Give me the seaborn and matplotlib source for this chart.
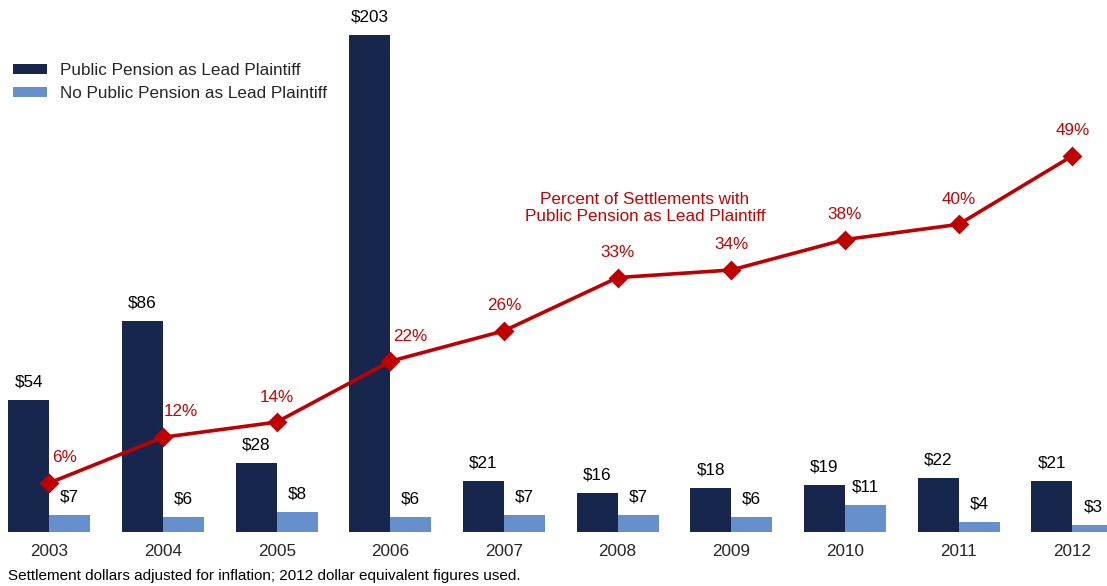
import matplotlib
matplotlib.use("Agg")
import matplotlib.pyplot as plt
import seaborn as sns
import pandas as pd

# Settlement data (2012 dollars, millions) and share of settlements with a public pension lead plaintiff
years = ["2003", "2004", "2005", "2006", "2007", "2008", "2009", "2010", "2011", "2012"]
public_pension = [54, 86, 28, 203, 21, 16, 18, 19, 22, 21]
no_public_pension = [7, 6, 8, 6, 7, 7, 6, 11, 4, 3]
pct_public = [6, 12, 14, 22, 26, 33, 34, 38, 40, 49]

series_names = ["Public Pension as Lead Plaintiff", "No Public Pension as Lead Plaintiff"]
pct_title = "Percent of Settlements with\nPublic Pension as Lead Plaintiff"
footnote = "Settlement dollars adjusted for inflation; 2012 dollar equivalent figures used."

NAVY = "#17264d"
LIGHT = "#6590cc"
RED = "#c00000"
FS = 12.3

sns.set_style("white")
plt.rcParams["font.family"] = ["Liberation Sans", "DejaVu Sans"]

df = pd.DataFrame({
    "year": years * 2,
    "value": public_pension + no_public_pension,
    "series": [series_names[0]] * len(years) + [series_names[1]] * len(years),
})

fig = plt.figure(figsize=(11.07, 5.86), dpi=100)
ax = fig.add_axes([0.0, 54 / 586, 1.0, 532 / 586])

sns.barplot(data=df, x="year", y="value", hue="series", hue_order=series_names,
            palette=[NAVY, LIGHT], width=0.72, errorbar=None, ax=ax,
            edgecolor="none", saturation=1)

# Dollar labels above each bar
for container, vals in zip(ax.containers, [public_pension, no_public_pension]):
    for patch, v in zip(container.patches, vals):
        ax.annotate(f"${v}", (patch.get_x() + patch.get_width() / 2, patch.get_height()),
                    xytext=(0, 18), textcoords="offset pixels",
                    ha="center", va="center", fontsize=FS, color="black")

# Legend
old = ax.get_legend()
handles = old.legend_handles
labels = [t.get_text() for t in old.get_texts()]
old.remove()
ax.legend(handles, labels, loc="upper left", bbox_to_anchor=(13 / 1107, 1 - 63 / 532),
          frameon=False, fontsize=FS, handlelength=2.0, handleheight=0.55,
          handletextpad=0.75, labelspacing=0.48, borderpad=0, borderaxespad=0)

ax.set_ylim(0, 532 / 2.448)
ax.set_xlim(-0.4337, 9.305)
ax.set_xlabel("")
ax.set_ylabel("")
ax.set_yticks([])
ax.tick_params(axis="x", length=0, labelsize=FS, pad=8.5)
for s in ax.spines.values():
    s.set_visible(False)

# Percentage line on a secondary axis
ax2 = ax.twinx()
sns.pointplot(x=years, y=pct_public, color=RED, markers="D", linestyles="-",
              errorbar=None, ax=ax2, markersize=8.5, linewidth=2.6)
ax2.set_ylim(-0.45, 69.5)
ax2.set_xlim(-0.4337, 9.305)
ax2.set_yticks([])
ax2.set_ylabel("")
ax2.set_xlabel("")
for s in ax2.spines.values():
    s.set_visible(False)

offsets = {0: (15, 25), 1: (18, 26), 3: (20, 25)}
for i, p in enumerate(pct_public):
    dx, dy = offsets.get(i, (0, 25))
    ax2.annotate(f"{p}%", (i, p), xytext=(dx, dy), textcoords="offset pixels",
                 ha="center", va="center", fontsize=FS, color="#cc0000")

fig.text(645 / 1107, 1 - 208 / 586, pct_title, ha="center", va="center",
         multialignment="center", fontsize=FS, color="#cc0000", linespacing=1.15)

fig.text(8 / 1107, 1 - 576 / 586, footnote, ha="left", va="center", fontsize=11, color="black")

fig.savefig("out.png", dpi=100)
